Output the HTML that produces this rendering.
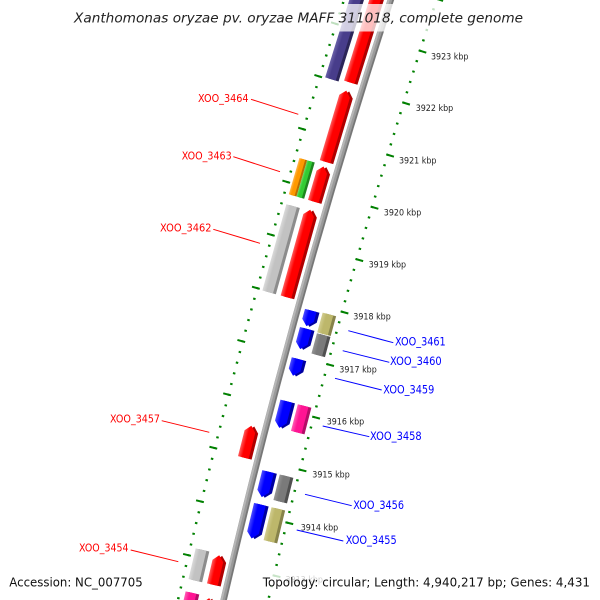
<!DOCTYPE html>
<html><head><meta charset="utf-8">
<style>
html,body{margin:0;padding:0;background:#fff;width:600px;height:600px;overflow:hidden;}
svg{display:block;}
text{font-family:"DejaVu Sans","Liberation Sans",sans-serif;}
</style></head>
<body>
<svg width="600" height="600" viewBox="0 0 600 600" xmlns="http://www.w3.org/2000/svg" overflow="hidden">
<defs>
<linearGradient id="gR" x1="0" y1="0" x2="1" y2="0"><stop offset="0" stop-color="#ff0000"/><stop offset="0.6" stop-color="#ff0000"/><stop offset="1" stop-color="#ff5a5a"/></linearGradient>
<linearGradient id="gP" x1="0" y1="0" x2="1" y2="0"><stop offset="0" stop-color="#483d8b"/><stop offset="0.6" stop-color="#483d8b"/><stop offset="1" stop-color="#6a60a8"/></linearGradient>
<linearGradient id="gL" x1="0" y1="0" x2="1" y2="0"><stop offset="0" stop-color="#c2c2c2"/><stop offset="0.6" stop-color="#c2c2c2"/><stop offset="1" stop-color="#dadada"/></linearGradient>
<linearGradient id="gO" x1="0" y1="0" x2="1" y2="0"><stop offset="0" stop-color="#ff9900"/><stop offset="0.6" stop-color="#ff9900"/><stop offset="1" stop-color="#ffb84d"/></linearGradient>
<linearGradient id="gG" x1="0" y1="0" x2="1" y2="0"><stop offset="0" stop-color="#33cc33"/><stop offset="0.6" stop-color="#33cc33"/><stop offset="1" stop-color="#66dd66"/></linearGradient>
<linearGradient id="gB" x1="0" y1="0" x2="1" y2="0"><stop offset="0" stop-color="#0000ff"/><stop offset="0.6" stop-color="#0000ff"/><stop offset="1" stop-color="#4d4dff"/></linearGradient>
<linearGradient id="gK" x1="0" y1="0" x2="1" y2="0"><stop offset="0" stop-color="#bdb76b"/><stop offset="0.6" stop-color="#bdb76b"/><stop offset="1" stop-color="#d2cd90"/></linearGradient>
<linearGradient id="gD" x1="0" y1="0" x2="1" y2="0"><stop offset="0" stop-color="#7a7a7a"/><stop offset="0.6" stop-color="#7a7a7a"/><stop offset="1" stop-color="#959595"/></linearGradient>
<linearGradient id="gM" x1="0" y1="0" x2="1" y2="0"><stop offset="0" stop-color="#ff1493"/><stop offset="0.6" stop-color="#ff1493"/><stop offset="1" stop-color="#ff5cb5"/></linearGradient>
</defs>
<rect width="600" height="600" fill="#fff"/>

<g transform="translate(7230,2228)">
  <!-- inner ring -->
  <path d="M7147 0 A7147 7147 0 0 1 7121.41 604.26" transform="rotate(193.3553)" fill="none" stroke="#008000" stroke-width="8" stroke-dasharray="2 52.470"/>
  <path d="M7149.5 0 A7149.5 7149.5 0 0 1 7122.30 623.13" transform="rotate(193.1806)" fill="none" stroke="#008000" stroke-width="2.5" stroke-dasharray="2 8.8977"/>
  <!-- outer ring -->
  <path d="M7239 0 A7239 7239 0 0 1 7215.68 580.56" transform="rotate(193.3554)" fill="none" stroke="#008000" stroke-width="8" stroke-dasharray="2 53.171"/>
  <path d="M7237.5 0 A7237.5 7237.5 0 0 1 7210.50 624.50" transform="rotate(193.0061)" fill="none" stroke="#008000" stroke-width="2.5" stroke-dasharray="2 9.0318"/>

  <!-- backbone -->
  <g transform="rotate(192.95)" fill="none">
    <path d="M7193 0 A7193 7193 0 0 1 7163.39 651.92" stroke="#9a9a9a" stroke-width="6.5"/>
    <path d="M7195 0 A7195 7195 0 0 1 7165.38 652.10" stroke="#b6b6b6" stroke-width="2"/>
    <path d="M7190.8 0 A7190.8 7190.8 0 0 1 7161.20 651.72" stroke="#777777" stroke-width="1.6"/>
  </g>

  <!-- red forward genes -->
  <g transform="rotate(197.32)"><polygon fill="#b00000" points="7199,0 7210,0 7210,94 7204.5,100 7199,94"/><polygon fill="url(#gR)" points="7202,0 7213,0 7213,94 7207.5,100 7202,94"/></g>
  <g transform="rotate(196.66)"><polygon fill="#b00000" points="7199,0 7210,0 7210,68.2 7204.5,74.2 7199,68.2"/><polygon fill="url(#gR)" points="7202,0 7213,0 7213,68.2 7207.5,74.2 7202,68.2"/></g>
  <g transform="rotate(196.33)"><polygon fill="#b00000" points="7199,0 7210,0 7210,30.5 7204.5,36.5 7199,30.5"/><polygon fill="url(#gR)" points="7202,0 7213,0 7213,30.5 7207.5,36.5 7202,30.5"/></g>
  <g transform="rotate(195.54)"><polygon fill="#b00000" points="7199,0 7210,0 7210,84.6 7204.5,90.6 7199,84.6"/><polygon fill="url(#gR)" points="7202,0 7213,0 7213,84.6 7207.5,90.6 7202,84.6"/></g>
  <g transform="rotate(194.22)"><polygon fill="#b00000" points="7199,0 7210,0 7210,26.7 7204.5,32.7 7199,26.7"/><polygon fill="url(#gR)" points="7202,0 7213,0 7213,26.7 7207.5,32.7 7202,26.7"/></g>
  <g transform="rotate(193.18)"><polygon fill="#b00000" points="7199,0 7210,0 7210,24.2 7204.5,30.2 7199,24.2"/><polygon fill="url(#gR)" points="7202,0 7213,0 7213,24.2 7207.5,30.2 7202,24.2"/></g>
  <g transform="rotate(193.0)"><polygon fill="#b00000" points="7199,0 7210,0 7210,2.8 7204.5,8.8 7199,2.8"/><polygon fill="url(#gR)" points="7202,0 7213,0 7213,2.8 7207.5,8.8 7202,2.8"/></g>

  <!-- outer lane -->
  <g transform="rotate(197.30)"><rect fill="#2c2558" x="7218" y="0" width="11" height="100"/><rect fill="url(#gP)" x="7221" y="0" width="11" height="100"/></g>
  <g transform="rotate(196.33)">
    <rect fill="#1e861e" x="7217" y="0" width="5.5" height="37.8"/><rect fill="url(#gG)" x="7219.5" y="0" width="5.5" height="37.8"/>
    <rect fill="#b86e00" x="7225" y="0" width="6" height="37.8"/><rect fill="url(#gO)" x="7227" y="0" width="6" height="37.8"/>
  </g>
  <g transform="rotate(195.54)"><rect fill="#8c8c8c" x="7218" y="0" width="11" height="89.5"/><rect fill="url(#gL)" x="7221" y="0" width="11" height="89.5"/></g>
  <g transform="rotate(193.18)"><rect fill="#8c8c8c" x="7218" y="0" width="11" height="31.5"/><rect fill="url(#gL)" x="7221" y="0" width="11" height="31.5"/></g>
  <g transform="rotate(193.0)"><rect fill="#b30d68" x="7218" y="0" width="11" height="10.1"/><rect fill="url(#gM)" x="7221" y="0" width="11" height="10.1"/></g>

  <!-- blue reverse genes -->
  <g transform="rotate(195.36)"><polygon fill="#0000a0" points="7171,6 7177,0 7183,6 7183,16.3 7171,16.3"/><polygon fill="url(#gB)" points="7174,6 7180,0 7186,6 7186,16.3 7174,16.3"/></g>
  <g transform="rotate(195.17)"><polygon fill="#0000a0" points="7171,6 7177,0 7183,6 7183,21.3 7171,21.3"/><polygon fill="url(#gB)" points="7174,6 7180,0 7186,6 7186,21.3 7174,21.3"/></g>
  <g transform="rotate(194.95)"><polygon fill="#0000a0" points="7171,6 7177,0 7183,6 7183,17.5 7171,17.5"/><polygon fill="url(#gB)" points="7174,6 7180,0 7186,6 7186,17.5 7174,17.5"/></g>
  <g transform="rotate(194.52)"><polygon fill="#0000a0" points="7171,6 7177,0 7183,6 7183,27.6 7171,27.6"/><polygon fill="url(#gB)" points="7174,6 7180,0 7186,6 7186,27.6 7174,27.6"/></g>
  <g transform="rotate(193.95)"><polygon fill="#0000a0" points="7171,6 7177,0 7183,6 7183,26.3 7171,26.3"/><polygon fill="url(#gB)" points="7174,6 7180,0 7186,6 7186,26.3 7174,26.3"/></g>
  <g transform="rotate(193.61)"><polygon fill="#0000a0" points="7171,6 7177,0 7183,6 7183,35.1 7171,35.1"/><polygon fill="url(#gB)" points="7174,6 7180,0 7186,6 7186,35.1 7174,35.1"/></g>

  <!-- inner lane -->
  <g transform="rotate(195.335)"><rect fill="#87834a" x="7154" y="0" width="11" height="20.5"/><rect fill="url(#gK)" x="7157" y="0" width="11" height="20.5"/></g>
  <g transform="rotate(195.16)"><rect fill="#505050" x="7154" y="0" width="11" height="21"/><rect fill="url(#gD)" x="7157" y="0" width="11" height="21"/></g>
  <g transform="rotate(194.52)"><rect fill="#b30d68" x="7154" y="0" width="11" height="27.5"/><rect fill="url(#gM)" x="7157" y="0" width="11" height="27.5"/></g>
  <g transform="rotate(193.95)"><rect fill="#505050" x="7154" y="0" width="11" height="26.3"/><rect fill="url(#gD)" x="7157" y="0" width="11" height="26.3"/></g>
  <g transform="rotate(193.62)"><rect fill="#87834a" x="7154" y="0" width="11" height="33.8"/><rect fill="url(#gK)" x="7157" y="0" width="11" height="33.8"/></g>
</g>

<!-- kbp labels -->
<g font-size="8.5" fill="#222">
  <text x="431" y="59.3" textLength="37.5" lengthAdjust="spacingAndGlyphs">3923 kbp</text>
  <text x="415.7" y="111" textLength="37.5" lengthAdjust="spacingAndGlyphs">3922 kbp</text>
  <text x="399" y="163.3" textLength="37.5" lengthAdjust="spacingAndGlyphs">3921 kbp</text>
  <text x="383.8" y="215.3" textLength="37.5" lengthAdjust="spacingAndGlyphs">3920 kbp</text>
  <text x="368.6" y="267.3" textLength="37.5" lengthAdjust="spacingAndGlyphs">3919 kbp</text>
  <text x="353.3" y="319.3" textLength="37.5" lengthAdjust="spacingAndGlyphs">3918 kbp</text>
  <text x="339.3" y="372.3" textLength="37.5" lengthAdjust="spacingAndGlyphs">3917 kbp</text>
  <text x="326.7" y="424.3" textLength="37.5" lengthAdjust="spacingAndGlyphs">3916 kbp</text>
  <text x="312.3" y="477.3" textLength="37.5" lengthAdjust="spacingAndGlyphs">3915 kbp</text>
  <text x="300.7" y="530.3" textLength="37.5" lengthAdjust="spacingAndGlyphs">3914 kbp</text>
  <text x="285.5" y="582.5" textLength="37.5" lengthAdjust="spacingAndGlyphs">3913 kbp</text>
</g>

<!-- red labels -->
<g stroke="#ff0000" stroke-width="1">
  <line x1="251" y1="99.3" x2="298.3" y2="114.3"/>
  <line x1="233.3" y1="156.7" x2="280" y2="171.7"/>
  <line x1="213.3" y1="229.3" x2="260" y2="243.3"/>
  <line x1="161.7" y1="420.7" x2="209.3" y2="432.3"/>
  <line x1="130.7" y1="550" x2="178.3" y2="561.7"/>
</g>
<g font-size="11" fill="#ff0000">
  <text x="198" y="102" textLength="50.5" lengthAdjust="spacingAndGlyphs">XOO_3464</text>
  <text x="181.7" y="159.3" textLength="50" lengthAdjust="spacingAndGlyphs">XOO_3463</text>
  <text x="160" y="231.7" textLength="51.5" lengthAdjust="spacingAndGlyphs">XOO_3462</text>
  <text x="110" y="422.3" textLength="50" lengthAdjust="spacingAndGlyphs">XOO_3457</text>
  <text x="79" y="551.7" textLength="49.5" lengthAdjust="spacingAndGlyphs">XOO_3454</text>
</g>

<!-- blue labels -->
<g stroke="#0000ff" stroke-width="1">
  <line x1="348.3" y1="330.7" x2="393.3" y2="342.7"/>
  <line x1="342.7" y1="350.7" x2="389.3" y2="362.3"/>
  <line x1="335" y1="378.3" x2="381.7" y2="390"/>
  <line x1="322.7" y1="426" x2="369.3" y2="436.7"/>
  <line x1="305" y1="494.3" x2="351.7" y2="505.7"/>
  <line x1="296.7" y1="530" x2="343.3" y2="541"/>
</g>
<g font-size="11.5" fill="#0000ff">
  <text x="395" y="345.7" textLength="50.7" lengthAdjust="spacingAndGlyphs">XOO_3461</text>
  <text x="390" y="365" textLength="51.7" lengthAdjust="spacingAndGlyphs">XOO_3460</text>
  <text x="383.3" y="393.3" textLength="51" lengthAdjust="spacingAndGlyphs">XOO_3459</text>
  <text x="370" y="440" textLength="51.7" lengthAdjust="spacingAndGlyphs">XOO_3458</text>
  <text x="353.3" y="509" textLength="50.7" lengthAdjust="spacingAndGlyphs">XOO_3456</text>
  <text x="345.7" y="544" textLength="51" lengthAdjust="spacingAndGlyphs">XOO_3455</text>
</g>

<!-- title -->
<rect x="68" y="4" width="462" height="27.5" fill="#ffffff" fill-opacity="0.75"/>
<text x="74" y="22.7" font-size="13" font-style="italic" fill="#222" textLength="449" lengthAdjust="spacingAndGlyphs">Xanthomonas oryzae pv. oryzae MAFF 311018, complete genome</text>

<!-- footer -->
<rect x="5" y="571" width="142" height="21" fill="#ffffff" fill-opacity="0.78"/>
<rect x="258" y="571" width="338" height="21" fill="#ffffff" fill-opacity="0.78"/>
<text x="9.3" y="586.7" font-size="12.5" fill="#111" textLength="133.4" lengthAdjust="spacingAndGlyphs">Accession: NC_007705</text>
<text x="262.7" y="586.7" font-size="12.5" fill="#111" textLength="327.3" lengthAdjust="spacingAndGlyphs">Topology: circular; Length: 4,940,217 bp; Genes: 4,431</text>
</svg>
</body></html>
